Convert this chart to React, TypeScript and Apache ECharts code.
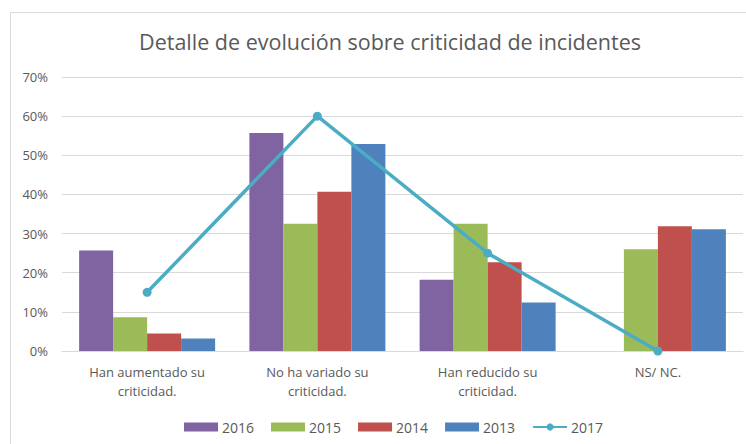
import React, { useEffect, useRef } from "react";
import * as echarts from "echarts";

const categories = [
  "Han aumentado su criticidad.",
  "No ha variado su criticidad.",
  "Han reducido su criticidad.",
  "NS/ NC.",
];
const values2016: (number | null)[] = [25.7, 55.7, 18.2, null];
const values2015 = [8.6, 32.5, 32.5, 26.0];
const values2014 = [4.5, 40.7, 22.7, 31.9];
const values2013 = [3.2, 52.9, 12.4, 31.1];
const values2017 = [15, 60, 25, 0];
const yTicks = { min: 0, max: 70, interval: 10 };

const TEXT = "#595959";
const FONT = "'Open Sans', sans-serif";

export default function App() {
  const ref = useRef<HTMLDivElement>(null);
  useEffect(() => {
    document.body.style.margin = "0";
    const chart = echarts.init(ref.current!, undefined, { renderer: "svg" });
    const bar = (name: string, data: (number | null)[], color: string) => ({
      name,
      type: "bar",
      data,
      barWidth: 34,
      barGap: "0%",
      itemStyle: { color },
    });
    chart.setOption({
      animation: false,
      textStyle: { fontFamily: FONT },
      title: {
        text: "Detalle de evolución sobre criticidad de incidentes",
        left: 385,
        textAlign: "center",
        top: 25,
        textStyle: { color: TEXT, fontSize: 21.5, fontWeight: "normal", fontFamily: FONT },
      },
      graphic: [
        {
          type: "rect",
          shape: { x: 10.5, y: 12.5, width: 900, height: 600 },
          style: { fill: "none", stroke: "#D9D9D9", lineWidth: 1 },
          silent: true,
          z: -10,
        },
      ],
      legend: {
        left: 179,
        top: 415,
        itemWidth: 34,
        itemHeight: 9,
        itemGap: 17,
        textStyle: { color: TEXT, fontSize: 14, fontFamily: FONT, padding: [0, 0, 0, -1] },
        data: [
          { name: "2016", icon: "rect" },
          { name: "2015", icon: "rect" },
          { name: "2014", icon: "rect" },
          { name: "2013", icon: "rect" },
          { name: "2017" },
        ],
      },
      grid: { left: 62, right: 3, top: 77, bottom: 93, containLabel: false },
      xAxis: {
        type: "category",
        data: categories,
        axisLine: { lineStyle: { color: "#D9D9D9" } },
        axisTick: { show: false },
        axisLabel: {
          color: TEXT,
          fontSize: 13,
          fontFamily: FONT,
          margin: 11,
          lineHeight: 19,
          interval: 0,
          formatter: (v: string) => v.replace(" su ", " su\n"),
        },
      },
      yAxis: {
        type: "value",
        min: yTicks.min,
        max: yTicks.max,
        interval: yTicks.interval,
        axisLine: { show: false },
        axisTick: { show: false },
        splitLine: { lineStyle: { color: "#D9D9D9" } },
        axisLabel: {
          color: TEXT,
          fontSize: 13,
          fontFamily: FONT,
          margin: 14,
          formatter: "{value}%",
        },
      },
      series: [
        bar("2016", values2016, "#8064A2"),
        bar("2015", values2015, "#9BBB59"),
        bar("2014", values2014, "#C0504D"),
        bar("2013", values2013, "#4F81BD"),
        {
          name: "2017",
          type: "line",
          data: values2017,
          symbol: "circle",
          symbolSize: 9,
          z: 5,
          itemStyle: { color: "#4BACC6" },
          lineStyle: { color: "#4BACC6", width: 3.5 },
        },
      ],
    });
    return () => chart.dispose();
  }, []);
  return <div ref={ref} style={{ width: 746, height: 444 }} />;
}
